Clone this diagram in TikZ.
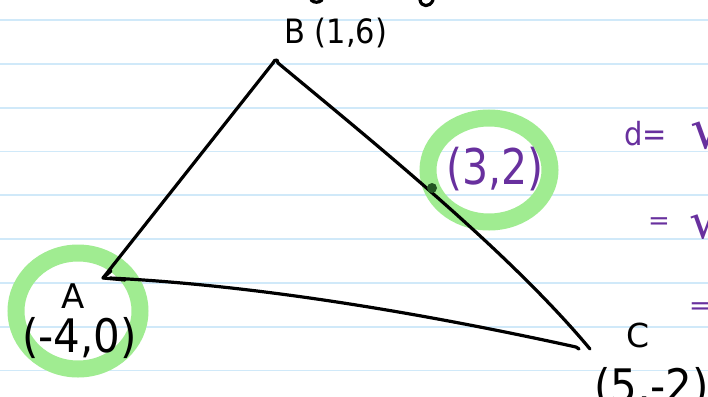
\documentclass[tikz,border=0pt]{standalone}
\usepackage{fontspec}
\usepackage{graphicx}
\setmainfont{DejaVu Sans}
\definecolor{rule}{RGB}{208,233,249}
\definecolor{hl}{RGB}{160,236,145}
\definecolor{pur}{RGB}{104,48,158}
\definecolor{dotc}{RGB}{35,85,35}
\tikzset{
  pen/.style={line width=3.2pt, line cap=round, line join=round, black},
  ruleline/.style={line width=1.8pt, rule},
  ring/.style={line width=17pt, hl},
  lbl/.style={inner sep=0pt, anchor=base west, black},
  plbl/.style={inner sep=0pt, anchor=base west, pur},
}
\begin{document}
\begin{tikzpicture}[x=1pt, y=-1pt]
\useasboundingbox (0,0) rectangle (708,396);
\fill[white] (0,0) rectangle (708,396);
% ruled lines
\foreach \k in {0,...,8} {
  \draw[ruleline] (0,{20+43.8*\k}) -- (708,{20+43.8*\k});
}
% highlight rings
\draw[ring] (78,311) ellipse [x radius=62pt, y radius=58pt];
\draw[ring] (489,170) ellipse [x radius=61pt, y radius=52pt];
% top fragments of cut-off writing
\draw[pen] (311,0) .. controls (314,3) and (319,3) .. (322,0);
\draw[pen] (420,0) .. controls (421,7) and (430,8) .. (433,0);
% vertices
\coordinate (Bl) at (273,63);
\coordinate (Br) at (278,63);
\coordinate (Aend) at (103,278);
\coordinate (Astart) at (110,278);
\coordinate (Cb) at (576,347);
\coordinate (Cr) at (590,349);
% triangle sides
\draw[pen] (Bl) -- (Aend);
\draw[pen] (Aend) -- ++(8,-7);
\draw[pen] (Aend) -- ++(22,2);
\draw[pen] (Astart) .. controls (260,285.5) and (426,314) .. (Cb) -- ++(3,2);
\draw[pen] (Br) .. controls (378,146) and (510,253) .. (Cr);
\draw[pen] (Bl) -- ++(2,-3);
\draw[pen] (Br) -- ++(-1,-3);
% midpoint dot
\coordinate (M) at (432,188);
\fill[dotc] (M) circle (5pt);
% labels
\node[lbl, font=\fontsize{30.5}{30.5}\selectfont] (Blab) at (284,44) {\scalebox{1}[1.1]{B (1,6)}};
\node[lbl, font=\fontsize{34}{34}\selectfont] (Alab) at (61,308) {A};
\node[lbl, font=\fontsize{42}{42}\selectfont] (Acoord) at (22,352) {\scalebox{1}[1.1]{(-4,0)}};
\node[lbl, font=\fontsize{33}{33}\selectfont] (Clab) at (626,347) {C};
\node[lbl, font=\fontsize{42}{42}\selectfont] (Ccoord) at (594,402) {\scalebox{1}[1.1]{(5,-2)}};
\node[plbl, font=\fontsize{41}{41}\selectfont] (Mlab) at (446,184) {\scalebox{1}[1.2]{(3,2)}};
% purple working
\node[plbl, font=\fontsize{29}{29}\selectfont] (d1) at (624,145) {\scalebox{1}[1.1]{d=}};
\node[plbl, font=\fontsize{56}{56}\selectfont] (r1) at (690,148) {√};
\node[plbl, font=\fontsize{26}{26}\selectfont] (e2) at (648,229) {=};
\node[plbl, font=\fontsize{50}{50}\selectfont] (r2) at (689,238) {√};
\node[plbl, font=\fontsize{26}{26}\selectfont] (e3) at (689,314) {=};
\end{tikzpicture}
\end{document}
